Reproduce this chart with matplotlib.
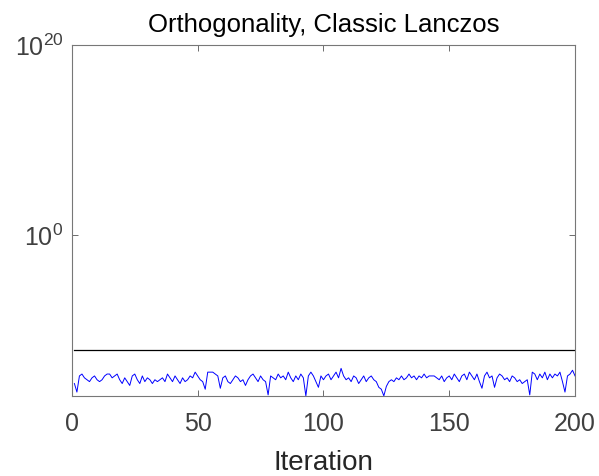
import matplotlib.pyplot as plt
import numpy as np

plt.rcParams["font.family"] = ["Liberation Sans", "DejaVu Sans"]
plt.rcParams["mathtext.fontset"] = "custom"
plt.rcParams["mathtext.rm"] = "Liberation Sans"

# log10 of the orthogonality measure per iteration
log_orth = [
    -15.7, -16.6, -14.9, -14.7, -15.1, -15.3, -15.5, -15.1, -14.9, -15.3,
    -15.5, -15.3, -14.9, -14.7, -14.7, -15.1, -14.9, -14.7, -15.3, -15.7,
    -15.1, -15.5, -15.9, -14.9, -14.7, -15.3, -15.7, -14.9, -15.5, -15.1,
    -15.3, -15.7, -15.3, -15.5, -15.3, -15.1, -15.5, -14.7, -15.1, -15.5,
    -14.9, -15.3, -15.7, -15.1, -15.5, -15.3, -14.9, -15.1, -14.5, -14.9,
    -15.3, -15.5, -16.3, -14.5, -14.5, -14.5, -14.7, -14.9, -16.2, -15.1,
    -14.9, -15.5, -15.7, -15.3, -14.9, -15.1, -15.5, -15.3, -15.9, -15.3,
    -14.9, -14.7, -15.1, -15.5, -14.9, -15.3, -15.5, -16.9, -14.9, -15.1,
    -15.3, -14.7, -15.1, -14.9, -15.3, -14.5, -15.1, -15.5, -14.9, -15.3,
    -14.7, -15.1, -17.0, -14.9, -14.5, -14.9, -15.5, -16.1, -14.9, -15.3,
    -14.9, -14.7, -15.3, -14.9, -14.5, -15.1, -14.1, -14.9, -15.3, -15.1,
    -15.5, -14.9, -15.1, -15.7, -15.3, -14.9, -15.5, -15.1, -14.9, -15.3,
    -15.5, -16.1, -16.3, -17.0, -16.0, -15.5, -15.3, -15.5, -15.1, -15.3,
    -14.9, -15.3, -15.1, -14.7, -15.1, -14.9, -15.3, -14.9, -15.1, -14.7,
    -15.1, -14.9, -14.9, -14.9, -15.1, -15.3, -14.9, -15.5, -15.1, -14.9,
    -15.3, -14.7, -15.1, -15.5, -14.9, -14.7, -15.3, -14.5, -14.9, -15.3,
    -14.7, -15.5, -16.2, -14.9, -14.5, -15.1, -14.9, -16.1, -15.1, -14.7,
    -14.9, -15.3, -15.1, -15.5, -14.9, -15.1, -15.5, -15.3, -15.7, -15.5,
    -15.3, -16.9, -14.5, -14.7, -15.3, -14.7, -15.1, -14.5, -15.3, -14.7,
    -15.1, -14.7, -14.9, -14.5, -15.5, -16.6, -14.9, -14.7, -14.3, -14.9,
]
threshold = 7e-13
iterations = np.arange(1, len(log_orth) + 1)
orth = 10.0 ** np.array(log_orth)

gray = "#404040"
fig = plt.figure(figsize=(5.99, 4.77), dpi=100)
ax = fig.add_axes([0.120, 0.168, 0.840, 0.736])

ax.semilogy(iterations, orth, color="blue", linewidth=0.7)
ax.semilogy([iterations[0], iterations[-1]], [threshold, threshold], color="black", linewidth=0.9)

ax.set_xlim(0, 200)
ax.set_ylim(1e-17, 1e20)
ax.set_xticks([0, 50, 100, 150, 200])
ax.set_yticks([1e0, 1e20])
ax.set_yticklabels([r"$10^{0}$", r"$10^{20}$"])
ax.minorticks_off()
ax.tick_params(direction="in", length=4, width=0.6, colors="#555555",
               labelcolor=gray, labelsize=18, top=True, right=True)
ax.tick_params(axis="x", pad=11)
ax.tick_params(axis="y", pad=6)
for s in ax.spines.values():
    s.set_color("#777777")
    s.set_linewidth(0.8)

ax.set_title("Orthogonality, Classic Lanczos", fontsize=18.5, color="black", pad=10)
ax.set_xlabel("Iteration", fontsize=20, color="#262626", labelpad=10)

fig.savefig("out.png", dpi=100)
